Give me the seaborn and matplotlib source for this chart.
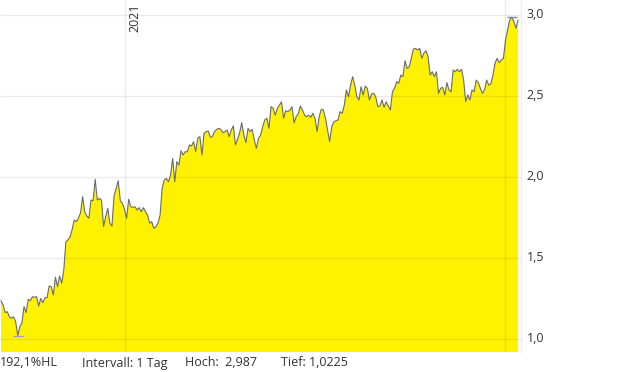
import numpy as np
import pandas as pd
import matplotlib
matplotlib.use("Agg")
import matplotlib.pyplot as plt
import matplotlib.transforms as mtransforms
import seaborn as sns

# ---- data ----
prices_q4_2020 = [
    1.239, 1.212, 1.165, 1.171, 1.140, 1.130, 1.140, 1.109, 1.0225, 1.078,
    1.103, 1.202, 1.165, 1.247, 1.239, 1.263, 1.260, 1.263, 1.206, 1.253,
    1.226, 1.257, 1.257, 1.329, 1.325, 1.274, 1.383, 1.325, 1.391, 1.346,
    1.428, 1.602, 1.613, 1.633, 1.679, 1.736, 1.726, 1.747, 1.781, 1.880,
    1.787, 1.761, 1.747, 1.859, 1.855, 1.987, 1.859, 1.870, 1.859, 1.695,
    1.756, 1.808, 1.716, 1.699, 1.884, 1.930, 1.978, 1.855,
]
prices_h1_2021 = [
    1.839, 1.802, 1.747, 1.864, 1.818, 1.814, 1.818, 1.798, 1.812, 1.787,
    1.812, 1.787, 1.767, 1.716, 1.726, 1.685, 1.695, 1.716, 1.767, 1.932,
    1.983, 1.993, 1.972, 2.014, 2.117, 1.972,
    2.096, 2.075, 2.163, 2.137, 2.157, 2.157, 2.199, 2.192, 2.219, 2.157,
    2.240, 2.250, 2.137, 2.271, 2.281, 2.285, 2.246, 2.250, 2.281, 2.295,
    2.301, 2.295, 2.274, 2.281, 2.291, 2.250, 2.291, 2.316, 2.199, 2.234,
    2.274, 2.336, 2.260, 2.213, 2.301, 2.281, 2.295, 2.229,
    2.178, 2.240, 2.260, 2.311, 2.353, 2.363, 2.301, 2.435, 2.425, 2.383,
    2.425, 2.445, 2.465, 2.363, 2.410, 2.404, 2.414, 2.435, 2.336, 2.373,
    2.390, 2.439, 2.414, 2.383, 2.373, 2.383, 2.369, 2.394, 2.363, 2.281,
    2.373, 2.419, 2.414, 2.363, 2.291, 2.219, 2.311, 2.342, 2.348, 2.353,
    2.404, 2.394,
]
prices_h2_2021 = [
    2.445, 2.538, 2.496, 2.568, 2.620, 2.568, 2.496, 2.476, 2.558, 2.507,
    2.562, 2.548, 2.476, 2.513, 2.517, 2.496, 2.435, 2.439, 2.476, 2.431,
    2.465, 2.439, 2.414, 2.527, 2.548, 2.589, 2.579, 2.630, 2.620, 2.718,
    2.671, 2.681, 2.733, 2.789,
    2.795, 2.784, 2.795, 2.733, 2.764, 2.780, 2.743, 2.630, 2.650, 2.620,
    2.650, 2.517, 2.548, 2.554, 2.507, 2.583, 2.538, 2.527, 2.661, 2.650,
    2.665, 2.650, 2.665, 2.599, 2.465, 2.507, 2.476, 2.538, 2.527, 2.599,
    2.583, 2.548, 2.517, 2.538, 2.599, 2.568, 2.575, 2.630, 2.702, 2.733,
    2.706, 2.723, 2.733, 2.846, 2.908, 2.969, 2.987, 2.959, 2.918, 2.969,
]
start_date = "2020-10-12"
grid_dates = ["2021-01-01", "2021-09-14"]
year_label = "2021"
y_ticks = [1.0, 1.5, 2.0, 2.5, 3.0]
interval_label = "Intervall: 1 Tag"

prices = prices_q4_2020 + prices_h1_2021 + prices_h2_2021
dates = pd.bdate_range(start_date, periods=len(prices))
df = pd.DataFrame({"idx": np.arange(len(prices)), "date": dates, "price": prices})

# ---- style ----
sns.set_theme(style="white")
plt.rcParams["font.family"] = ["Open Sans", "DejaVu Sans"]
text_col = "#333333"

fig = plt.figure(figsize=(6.2, 3.72), dpi=100)
ax = fig.add_axes([0.0, 0.0546, 0.8403, 0.9454])

ax.fill_between(df["idx"], df["price"], 0, color="#FFF200", linewidth=0, zorder=1)
sns.lineplot(data=df, x="idx", y="price", ax=ax, color="#6b6b6b", linewidth=0.8, zorder=3)

ax.set_xlim(-0.478, 248.4)
ax.set_ylim(0.9242, 3.0925)

# gridlines
for t in y_ticks:
    ax.axhline(t, color="black", alpha=0.08, linewidth=1, zorder=2)
for gd in grid_dates:
    gi = int(np.searchsorted(df["date"].values, np.datetime64(gd)))
    ax.axvline(gi, color="black", alpha=0.08, linewidth=1, zorder=2)

# year label
yi = int(np.searchsorted(df["date"].values, np.datetime64(grid_dates[0])))
ax.annotate(year_label, xy=(yi, 1.0), xycoords=ax.get_xaxis_transform(),
            xytext=(2.5, -2.5), textcoords="offset points", rotation=90,
            ha="left", va="top", fontsize=9, color=text_col)

# high / low markers
hi_i = int(np.argmax(prices)); lo_i = int(np.argmin(prices))
ax.hlines(prices[hi_i], hi_i - 2.5, hi_i + 2.5, color="#8a8a8a", linewidth=1, zorder=4)
ax.hlines(prices[lo_i], lo_i - 2.5, lo_i + 2.5, color="#9a9ad8", linewidth=1, zorder=4)

# axes styling
ax.yaxis.tick_right()
ax.set_yticks(y_ticks)
ax.set_yticklabels([f"{t:.1f}".replace(".", ",") for t in y_ticks], fontsize=9, color=text_col)
ax.tick_params(axis="y", length=0, pad=4)
shift = mtransforms.ScaledTranslation(0, 2 / 100, fig.dpi_scale_trans)
for lab in ax.get_yticklabels():
    lab.set_transform(lab.get_transform() + shift)
ax.set_xticks([])
ax.set_xlabel(""); ax.set_ylabel("")
for s in ["top", "left", "bottom"]:
    ax.spines[s].set_visible(False)
ax.spines["right"].set_color("#eeeeee")
ax.spines["right"].set_linewidth(1)

# footer texts
hi = max(prices); lo = min(prices)
hl = (hi - lo) / lo * 100
fy = 1 - 363 / 372
fig.text(0.0, fy, f"{hl:.1f}".replace(".", ",") + "%HL", fontsize=9, color=text_col, va="center")
fig.text(82 / 620, fy, interval_label, fontsize=9, color=text_col, va="center")
fig.text(185 / 620, fy, "Hoch:  " + f"{hi:.3f}".replace(".", ","), fontsize=9, color=text_col, va="center")
fig.text(281 / 620, fy, "Tief: " + f"{lo:.4f}".replace(".", ","), fontsize=9, color=text_col, va="center")

fig.savefig("out.png", dpi=100)
